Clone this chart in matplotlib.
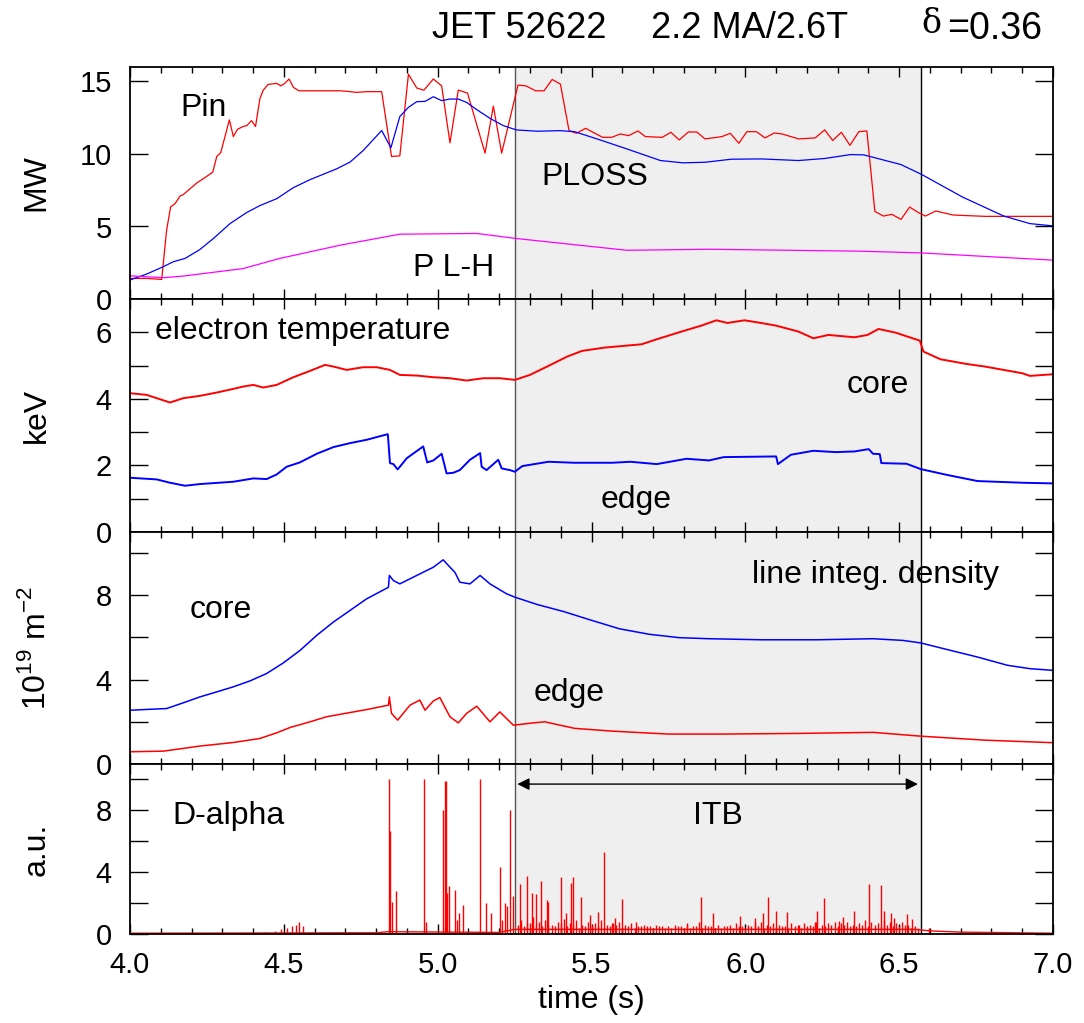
import numpy as np
import matplotlib
matplotlib.use('Agg')
import matplotlib.pyplot as plt
from matplotlib.ticker import FixedLocator, FixedFormatter, MultipleLocator

plt.rcParams['font.family'] = ['Liberation Sans', 'DejaVu Sans']
plt.rcParams['mathtext.fontset'] = 'custom'
plt.rcParams['mathtext.rm'] = 'Liberation Sans'

# --- Potencia (MW) ---
pin_t = [4.0, 4.054, 4.103, 4.119, 4.132, 4.146, 4.163, 4.173, 4.217, 4.249, 4.269, 4.282,
         4.295, 4.323, 4.336, 4.349, 4.368, 4.379, 4.395, 4.408, 4.422, 4.433, 4.449, 4.477,
         4.49, 4.503, 4.517, 4.531, 4.549, 4.595, 4.683, 4.715, 4.737, 4.77, 4.818, 4.85,
         4.877, 4.905, 4.932, 4.955, 4.986, 5.013, 5.04, 5.067, 5.097, 5.154, 5.181, 5.208,
         5.261, 5.287, 5.318, 5.346, 5.372, 5.399, 5.427, 5.451, 5.481, 5.536, 5.566, 5.593,
         5.621, 5.651, 5.675, 5.73, 5.758, 5.785, 5.815, 5.842, 5.869, 5.924, 5.951, 5.979,
         6.005, 6.036, 6.064, 6.094, 6.12, 6.173, 6.227, 6.258, 6.284, 6.312, 6.34, 6.369,
         6.395, 6.421, 6.449, 6.476, 6.506, 6.534, 6.561, 6.585, 6.619, 6.676, 6.779, 7.0]
pin_mw = [1.42, 1.42, 1.35, 4.74, 6.35, 6.57, 7.1, 7.2, 8.0, 8.45, 8.75, 9.83,
          10.1, 12.35, 11.2, 11.7, 11.9, 11.95, 12.3, 11.9, 13.8, 14.4, 14.8, 14.87,
          14.7, 14.87, 15.17, 14.6, 14.36, 14.36, 14.36, 14.3, 14.25, 14.3, 14.3, 9.83,
          9.87, 15.5, 14.55, 14.4, 15.17, 14.7, 10.77, 14.41, 14.2, 10.06, 13.3, 10.06,
          14.75, 14.7, 14.36, 14.36, 15.14, 14.82, 11.61, 11.43, 11.77, 11.15, 11.15, 11.38,
          11.27, 11.59, 11.2, 11.15, 11.5, 10.97, 11.52, 11.52, 11.04, 11.2, 11.43, 10.74,
          11.54, 11.54, 11.11, 11.45, 11.38, 11.04, 11.11, 11.66, 10.93, 11.5, 10.6, 11.54,
          11.59, 6.04, 5.72, 5.84, 5.49, 6.34, 5.98, 5.72, 6.07, 5.79, 5.7, 5.7]

ploss_t = [4.0, 4.054, 4.103, 4.141, 4.179, 4.227, 4.271, 4.325, 4.379, 4.422, 4.477, 4.531,
           4.585, 4.672, 4.715, 4.758, 4.818, 4.848, 4.877, 4.905, 4.932, 4.959, 4.986, 5.013,
           5.04, 5.067, 5.094, 5.127, 5.17, 5.213, 5.256, 5.324, 5.397, 5.445, 5.518, 5.615,
           5.724, 5.797, 5.869, 5.954, 6.051, 6.173, 6.258, 6.342, 6.385, 6.506, 6.573, 6.706,
           6.84, 6.925, 7.0]
ploss_mw = [1.31, 1.72, 2.18, 2.57, 2.8, 3.41, 4.17, 5.2, 5.96, 6.44, 6.92, 7.68,
            8.23, 8.98, 9.44, 10.24, 11.62, 10.43, 12.58, 13.22, 13.61, 13.63, 13.95, 13.68,
            13.79, 13.79, 13.56, 13.06, 12.46, 11.96, 11.66, 11.57, 11.61, 11.54, 11.04, 10.35,
            9.55, 9.39, 9.43, 9.64, 9.66, 9.55, 9.69, 9.96, 9.94, 9.27, 8.59, 7.03,
            5.72, 5.2, 5.04]

plh_t = [4.0, 4.108, 4.173, 4.368, 4.487, 4.683, 4.877, 5.127, 5.257, 5.615, 5.882, 6.367, 6.57, 7.0]
plh_mw = [1.6, 1.47, 1.58, 2.1, 2.8, 3.71, 4.47, 4.52, 4.17, 3.36, 3.43, 3.3, 3.18, 2.68]

# --- Temperatura electrónica (keV) ---
te_core_t = [4.0, 4.054, 4.097, 4.13, 4.173, 4.227, 4.282, 4.336, 4.368, 4.401, 4.433, 4.477,
             4.531, 4.585, 4.634, 4.661, 4.704, 4.758, 4.802, 4.845, 4.877, 4.932, 4.986, 5.04,
             5.094, 5.148, 5.202, 5.251, 5.30, 5.36, 5.421, 5.469, 5.542, 5.603, 5.663, 5.712,
             5.785, 5.857, 5.906, 5.942, 5.997, 6.051, 6.1, 6.173, 6.221, 6.27, 6.355, 6.397,
             6.433, 6.488, 6.567, 6.579, 6.634, 6.718, 6.779, 6.9, 6.925, 7.0]
te_core = [4.17, 4.12, 3.99, 3.89, 4.02, 4.09, 4.19, 4.3, 4.37, 4.42, 4.34, 4.42,
           4.65, 4.84, 5.02, 4.97, 4.87, 4.95, 4.95, 4.87, 4.72, 4.7, 4.65, 4.62,
           4.55, 4.62, 4.62, 4.57, 4.72, 4.99, 5.27, 5.44, 5.54, 5.59, 5.64, 5.79,
           6.0, 6.2, 6.36, 6.28, 6.36, 6.28, 6.2, 6.02, 5.82, 5.92, 5.85, 5.92,
           6.1, 5.99, 5.75, 5.42, 5.19, 5.05, 4.97, 4.77, 4.69, 4.74]

te_edge_t = [4.0, 4.087, 4.13, 4.179, 4.227, 4.336, 4.401, 4.444, 4.477, 4.509, 4.552, 4.607,
             4.661, 4.715, 4.769, 4.838, 4.845, 4.856, 4.87, 4.9, 4.953, 4.966, 4.986, 5.013,
             5.029, 5.051, 5.072, 5.105, 5.138, 5.143, 5.159, 5.197, 5.208, 5.235, 5.251, 5.275,
             5.36, 5.445, 5.566, 5.627, 5.712, 5.809, 5.882, 5.93, 6.1, 6.106, 6.148, 6.221,
             6.294, 6.355, 6.401, 6.415, 6.437, 6.442, 6.524, 6.57, 6.658, 6.755, 6.9, 7.0]
te_edge = [1.63, 1.58, 1.48, 1.39, 1.44, 1.51, 1.61, 1.59, 1.73, 1.96, 2.09, 2.35,
           2.55, 2.67, 2.77, 2.94, 2.07, 2.04, 1.88, 2.22, 2.57, 2.09, 2.15, 2.35,
           1.76, 1.78, 1.86, 2.17, 2.37, 1.96, 1.86, 2.17, 1.91, 1.86, 1.81, 1.98,
           2.11, 2.08, 2.08, 2.11, 2.04, 2.2, 2.15, 2.25, 2.27, 2.04, 2.32, 2.44,
           2.40, 2.42, 2.49, 2.35, 2.34, 2.07, 2.05, 1.89, 1.71, 1.53, 1.48, 1.46]

# --- Densidad integrada de línea (1e19 m^-2) ---
ne_core_t = [4.0, 4.119, 4.173, 4.227, 4.282, 4.336, 4.39, 4.444, 4.498, 4.553, 4.607, 4.661,
             4.715, 4.769, 4.84, 4.843, 4.856, 4.877, 4.932, 4.986, 5.018, 5.035, 5.056, 5.072,
             5.105, 5.138, 5.17, 5.224, 5.251, 5.324, 5.409, 5.494, 5.591, 5.688, 5.785, 5.882,
             6.051, 6.233, 6.415, 6.512, 6.57, 6.658, 6.755, 6.852, 6.925, 7.0]
ne_core = [2.55, 2.63, 2.9, 3.18, 3.42, 3.66, 3.94, 4.29, 4.79, 5.39, 6.1, 6.73,
           7.28, 7.83, 8.38, 8.94, 8.7, 8.54, 8.94, 9.33, 9.68, 9.41, 9.09, 8.62,
           8.54, 8.94, 8.54, 8.07, 7.91, 7.56, 7.23, 6.84, 6.41, 6.15, 5.99, 5.94,
           5.89, 5.89, 5.94, 5.86, 5.74, 5.42, 5.07, 4.68, 4.52, 4.44]

ne_edge_t = [4.0, 4.108, 4.173, 4.227, 4.336, 4.422, 4.477, 4.52, 4.585, 4.639, 4.715, 4.769,
             4.84, 4.843, 4.85, 4.87, 4.91, 4.942, 4.959, 4.986, 5.007, 5.04, 5.067, 5.094,
             5.127, 5.17, 5.202, 5.246, 5.311, 5.348, 5.445, 5.566, 5.748, 5.93, 6.173, 6.415,
             6.57, 6.779, 7.0]
ne_edge = [0.58, 0.61, 0.74, 0.85, 1.02, 1.21, 1.48, 1.73, 2.0, 2.24, 2.44, 2.58,
           2.79, 3.18, 2.4, 2.08, 2.79, 3.03, 2.55, 2.99, 3.15, 2.24, 1.95, 2.4,
           2.74, 2.0, 2.47, 1.84, 1.95, 2.0, 1.69, 1.56, 1.42, 1.42, 1.45, 1.5,
           1.32, 1.13, 1.01]

# --- D-alpha (u.a.) ---
da_base_t = [4.0, 4.8, 4.84, 5.2, 5.25, 6.55, 6.6, 6.7, 7.0]
da_base = [0.05, 0.08, 0.15, 0.1, 0.3, 0.3, 0.2, 0.12, 0.05]

elm_t = [4.44, 4.47, 4.49, 4.51, 4.525, 4.54, 4.55, 4.562,
         4.841, 4.845, 4.85, 4.864, 4.957, 4.962, 5.016, 5.024, 5.027, 5.031, 5.038, 5.056,
         5.062, 5.07, 5.081, 5.137, 5.157, 5.172, 5.202, 5.21, 5.219, 5.226, 5.236, 5.245,
         5.269, 5.29, 5.306, 5.318, 5.336, 5.354, 5.36, 5.4, 5.418, 5.433, 5.441, 5.467,
         5.494, 5.521, 5.54, 5.566, 5.578, 5.6, 5.645, 5.681, 5.809, 5.857, 5.894, 5.982,
         6.033, 6.057, 6.073, 6.1, 6.136, 6.173, 6.225, 6.233, 6.257, 6.306, 6.318, 6.352,
         6.403, 6.44, 6.452, 6.472, 6.482, 6.527, 6.542, 6.597]
elm_h = [0.1, 0.2, 0.3, 0.4, 0.5, 0.6, 0.8, 0.5,
         10.0, 6.65, 2.1, 2.8, 10.0, 0.8, 8.05, 9.9, 9.9, 2.64, 3.08, 2.86,
         0.9, 1.39, 1.88, 10.0, 1.99, 1.39, 4.31, 0.9, 1.99, 1.78, 8.05, 2.43,
         3.25, 3.77, 2.64, 2.58, 3.46, 2.21, 2.1, 3.66, 1.39, 3.33, 3.68, 2.38,
         1.23, 1.45, 5.3, 0.69, 1.02, 2.27, 0.8, 0.54, 0.69, 2.38, 1.39, 1.17,
         1.02, 1.34, 2.38, 1.5, 1.41, 0.59, 0.8, 1.52, 2.32, 0.85, 1.08, 1.52,
         3.23, 3.16, 1.5, 1.34, 1.02, 1.28, 0.95, 0.37]

# pequeños picos dentro del ITB
small_t = [5.27, 5.29, 5.31, 5.33, 5.35, 5.37, 5.39, 5.41, 5.43, 5.45, 5.47, 5.49, 5.51,
           5.53, 5.55, 5.57, 5.59, 5.61, 5.63, 5.65, 5.67, 5.69, 5.71, 5.73, 5.75, 5.77,
           5.79, 5.81, 5.83, 5.85, 5.87, 5.89, 5.91, 5.93, 5.95, 5.97, 5.99, 6.01, 6.03,
           6.05, 6.07, 6.09, 6.11, 6.13, 6.15, 6.17, 6.19, 6.21, 6.23, 6.25, 6.27, 6.29,
           6.31, 6.33, 6.35, 6.37, 6.39, 6.41, 6.43, 6.45, 6.47, 6.49, 6.51, 6.53, 6.55]
small_h = [0.9, 0.7, 1.1, 0.8, 0.9, 0.6, 0.8, 1.0, 0.7, 0.9, 0.6, 0.8, 0.7,
           0.9, 0.6, 0.7, 0.8, 0.6, 0.7, 0.5, 0.6, 0.5, 0.6, 0.5, 0.5, 0.6,
           0.5, 0.6, 0.5, 0.8, 0.6, 0.5, 0.6, 0.5, 0.6, 0.7, 0.5, 0.6, 0.7,
           0.8, 0.6, 0.7, 0.6, 0.5, 0.7, 0.6, 0.7, 0.6, 0.8, 0.6, 0.7, 0.8,
           0.7, 0.8, 0.6, 0.7, 0.9, 0.8, 0.7, 0.9, 0.8, 0.7, 0.8, 0.6, 0.5]
small2_t = [5.26, 5.28, 5.30, 5.32, 5.34, 5.36, 5.38, 5.40, 5.42, 5.44, 5.46, 5.48, 5.50,
            5.52, 5.54, 5.56, 5.58, 5.60, 5.62, 5.64, 5.66, 5.68, 5.70, 5.72, 5.74, 5.76,
            5.78, 5.80, 5.82, 5.84, 5.86, 5.88, 5.90, 5.92, 5.94, 5.96, 5.98, 6.00, 6.02,
            6.04, 6.06, 6.08, 6.10, 6.12, 6.14, 6.16, 6.18, 6.20, 6.22, 6.24, 6.26, 6.28,
            6.30, 6.32, 6.34, 6.36, 6.38, 6.40, 6.42, 6.44, 6.46, 6.48, 6.50, 6.52, 6.54, 6.56]
small2_h = [0.6, 0.5, 0.7, 0.6, 0.5, 0.6, 0.5, 0.7, 0.5, 0.6, 0.4, 0.5, 0.6,
            0.5, 0.4, 0.5, 0.6, 0.4, 0.5, 0.4, 0.5, 0.4, 0.4, 0.5, 0.4, 0.4,
            0.5, 0.4, 0.4, 0.5, 0.4, 0.5, 0.4, 0.4, 0.5, 0.4, 0.5, 0.4, 0.5,
            0.5, 0.4, 0.5, 0.4, 0.5, 0.4, 0.5, 0.4, 0.5, 0.5, 0.4, 0.5, 0.6,
            0.5, 0.6, 0.5, 0.5, 0.6, 0.5, 0.6, 0.5, 0.6, 0.5, 0.5, 0.6, 0.4, 0.4]

itb_start, itb_end = 5.25, 6.57

# Figura
fig, axes = plt.subplots(4, 1, sharex=True, figsize=(10.84, 10.23), dpi=100,
                         gridspec_kw=dict(height_ratios=[232, 233, 232, 170], hspace=0))
fig.subplots_adjust(left=130/1084, right=1053/1084, top=1-67/1023, bottom=1-934/1023)
ax1, ax2, ax3, ax4 = axes

FS_TICK = 21
FS_TEXT = 23
FS_LABEL = 23

for ax in axes:
    ax.axvspan(itb_start, itb_end, color='#efefef', zorder=0, lw=0)
    ax.axvline(itb_start, color='#555555', lw=1.0, zorder=1)
    ax.axvline(itb_end, color='black', lw=1.0, zorder=1)
    ax.set_xlim(4.0, 7.0)
    ax.xaxis.set_major_locator(MultipleLocator(0.5))
    ax.xaxis.set_minor_locator(MultipleLocator(0.1))
    ax.tick_params(axis='x', which='major', direction='in', top=True, bottom=True,
                   length=7, width=1, labelsize=FS_TICK, pad=12)
    ax.tick_params(axis='x', which='minor', direction='in', top=True, bottom=True,
                   length=4, width=1)
    ax.tick_params(axis='y', which='major', direction='in', left=True, right=True,
                   length=13, width=1, labelsize=FS_TICK, pad=13)
    for sp in ax.spines.values():
        sp.set_linewidth(1.3)

def set_yticks(ax, ticks, labelled):
    ax.yaxis.set_major_locator(FixedLocator(ticks))
    ax.yaxis.set_major_formatter(FixedFormatter([str(v) if v in labelled else '' for v in ticks]))

# --- Panel 1: potencias ---
ax1.plot(pin_t, pin_mw, color='red', lw=0.9)
ax1.plot(ploss_t, ploss_mw, color='blue', lw=0.9)
ax1.plot(plh_t, plh_mw, color='magenta', lw=0.9)
ax1.set_ylim(0, 16)
set_yticks(ax1, [0, 5, 10, 15], [0, 5, 10, 15])
ax1.text(4.163, 13.2, 'Pin', fontsize=FS_TEXT, va='center')
ax1.text(5.336, 8.38, 'PLOSS', fontsize=FS_TEXT, va='center')
ax1.text(4.92, 2.13, 'P L-H', fontsize=FS_TEXT, va='center')
ax1.set_ylabel('MW', fontsize=FS_LABEL)

# --- Panel 2: temperatura ---
ax2.plot(te_core_t, te_core, color='red', lw=1.4)
ax2.plot(te_edge_t, te_edge, color='blue', lw=1.4)
ax2.set_ylim(0, 7)
set_yticks(ax2, [0, 1, 2, 3, 4, 5, 6], [0, 2, 4, 6])
ax2.text(4.081, 6.05, 'electron temperature', fontsize=FS_TEXT, va='center')
ax2.text(6.33, 4.42, 'core', fontsize=FS_TEXT, va='center')
ax2.text(5.53, 0.96, 'edge', fontsize=FS_TEXT, va='center')
ax2.set_ylabel('keV', fontsize=FS_LABEL)

# --- Panel 3: densidad ---
ax3.plot(ne_core_t, ne_core, color='blue', lw=1.1)
ax3.plot(ne_edge_t, ne_edge, color='red', lw=1.1)
ax3.set_ylim(0, 11)
set_yticks(ax3, [0, 2, 4, 6, 8, 10], [0, 4, 8])
ax3.text(6.021, 8.94, 'line integ. density', fontsize=FS_TEXT, va='center')
ax3.text(4.195, 7.28, 'core', fontsize=FS_TEXT, va='center')
ax3.text(5.313, 3.36, 'edge', fontsize=FS_TEXT, va='center')
ax3.set_ylabel(r'10$^{\mathrm{19}}$ m$^{\mathrm{-2}}$', fontsize=FS_LABEL)

# --- Panel 4: D-alpha ---
ax4.plot(da_base_t, da_base, color='red', lw=1.0)
ax4.vlines(elm_t, 0, elm_h, color='red', lw=1.0)
ax4.vlines(small_t, 0, small_h, color='red', lw=1.0)
ax4.vlines(small2_t, 0, small2_h, color='red', lw=1.0)
ax4.set_ylim(0, 11)
set_yticks(ax4, [0, 2, 4, 6, 8, 10], [0, 4, 8])
ax4.annotate('', xy=(itb_start, 9.7), xytext=(itb_end, 9.7),
             arrowprops=dict(arrowstyle='<|-|>', color='black', lw=1, mutation_scale=18))
ax4.text((itb_start + itb_end) / 2, 7.66, 'ITB', fontsize=FS_TEXT, va='center', ha='center')
ax4.text(4.137, 7.66, 'D-alpha', fontsize=FS_TEXT, va='center')
ax4.set_ylabel('a.u.', fontsize=FS_LABEL)
ax4.set_xlabel('time (s)', fontsize=FS_LABEL)
ax4.xaxis.set_major_locator(FixedLocator([4.0, 4.5, 5.0, 5.5, 6.0, 6.5, 7.0]))
ax4.xaxis.set_major_formatter(FixedFormatter(['4.0', '4.5', '5.0', '5.5', '6.0', '6.5', '7.0']))
ax4.xaxis.set_label_coords(0.5, -0.30)

for ax in axes:
    ax.yaxis.set_label_coords(-0.085, 0.5)

# Título
fig.text(432/1084, 1-29/1023, 'JET 52622', fontsize=26, va='center')
fig.text(651/1084, 1-29/1023, '2.2 MA/2.6T', fontsize=26, va='center')
fig.text(921/1084, 1-24/1023, 'δ', fontsize=24, va='center', family='DejaVu Serif')
fig.text(947/1084, 1-29/1023, '=0.36', fontsize=27, va='center')

fig.savefig('out.png', dpi=100)
